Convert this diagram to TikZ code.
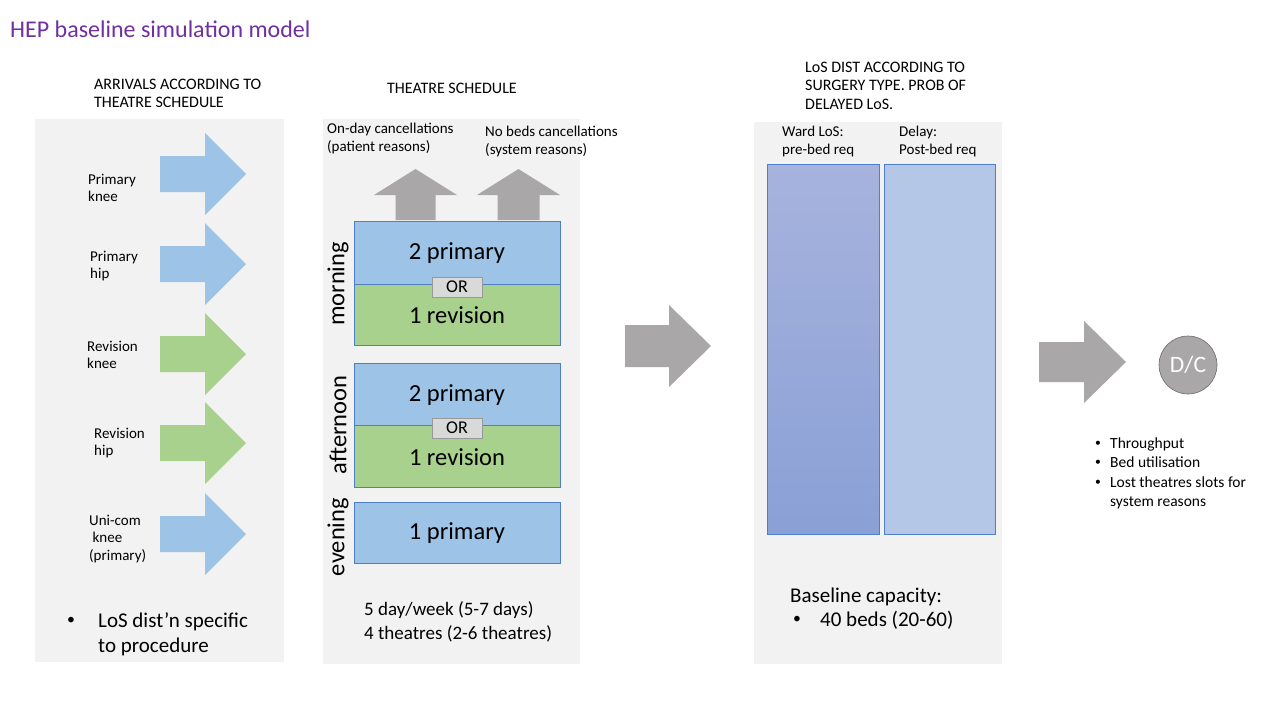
\documentclass[tikz,border=0pt]{standalone}
\usepackage{fontspec}
\usepackage{graphicx}
\setmainfont{Carlito}
\definecolor{panelgray}{HTML}{F2F2F2}
\definecolor{pblue}{HTML}{9DC3E6}
\definecolor{pgreen}{HTML}{A9D18E}
\definecolor{agray}{HTML}{A9A7A7}
\definecolor{bordblue}{HTML}{4F7FC6}
\definecolor{titlepurple}{HTML}{7030A0}
\definecolor{wardtop}{HTML}{A7B3DD}
\definecolor{wardbot}{HTML}{8AA0D6}
\definecolor{delayfill}{HTML}{B4C7E7}
\definecolor{orfill}{HTML}{D9D9D9}
\newcommand{\fs}[2]{\fontsize{#1}{#2}\selectfont}
\newcommand{\smbul}{\raisebox{0.12em}{\scalebox{0.75}{\textbullet}}}
\newcommand{\rarrow}[7]{% x1, xh, x2, yc, shaft half, head half, colour
  \fill[#7] (#1,{#4-#5}) -- (#2,{#4-#5}) -- (#2,{#4-#6}) -- (#3,#4) -- (#2,{#4+#6}) -- (#2,{#4+#5}) -- (#1,{#4+#5}) -- cycle;}
\newcommand{\uarrow}[6]{% xc, ybottom, yheadbase, ytip, shaft half, head half
  \fill[agray] ({#1-#5},#2) -- ({#1-#5},#3) -- ({#1-#6},#3) -- (#1,#4) -- ({#1+#6},#3) -- ({#1+#5},#3) -- ({#1+#5},#2) -- cycle;}
\tikzset{
  panel/.style={fill=panelgray, draw=none},
  lbl/.style={inner sep=0pt, align=left, font=\fs{15}{17.5}},
  hdr/.style={inner sep=0pt, align=left, font=\fs{16}{18.3}},
  boxtxt/.style={inner sep=0pt, font=\fs{24.5}{28}},
  slot/.style={draw=bordblue, line width=0.6pt},
  orbox/.style={fill=orfill, draw=gray!80, line width=0.6pt, minimum width=50pt, minimum height=20pt, inner sep=0pt, font=\fs{18}{21}},
  period/.style={inner sep=0pt, rotate=90, font=\fs{24.5}{28}},
  big/.style={inner sep=0pt, anchor=base west, font=\fs{21}{25}},
  mid/.style={inner sep=0pt, anchor=base west, font=\fs{19}{22}},
  small/.style={inner sep=0pt, anchor=base west, font=\fs{15.5}{18}},
}
\begin{document}
\begin{tikzpicture}[x=1pt,y=-1pt]
\useasboundingbox (0,0) rectangle (1280,720);
\fill[white] (0,0) rectangle (1280,720);

% title
\node[anchor=base west, inner sep=0pt, text=titlepurple, font=\fs{24}{28}] (title) at (10,37) {HEP baseline simulation model};

% ---------- panel 1 ----------
\fill[panel] (35,119) rectangle (284,662);
\node[hdr, anchor=north west] (h1) at (94,79) {ARRIVALS ACCORDING TO\\THEATRE SCHEDULE};

\rarrow{160}{205}{246}{174}{18}{41}{pblue}
\rarrow{160}{205}{246}{264}{18}{41}{pblue}
\rarrow{160}{205}{246}{354}{18}{41}{pgreen}
\rarrow{160}{205}{246}{443}{18}{41}{pgreen}
\rarrow{160}{205}{246}{534}{18}{41}{pblue}

\node[lbl, anchor=west] (a1) at (88,188) {Primary\\knee};
\node[lbl, anchor=west] (a2) at (90,266) {Primary\\hip};
\node[lbl, anchor=west] (a3) at (87,355) {Revision\\knee};
\node[lbl, anchor=west] (a4) at (94,443) {Revision\\hip};
\node[lbl, anchor=west] (a5) at (89,539) {Uni-com\\\ knee\\(primary)};

\node[big] (b1a) at (67,627) {\smbul};
\node[big] (b1) at (98,627) {LoS dist’n specific};
\node[big] (b1c) at (98,652) {to procedure};

% ---------- panel 2 ----------
\fill[panel] (323,119) rectangle (580,664);
\node[hdr, anchor=base] (h2) at (452,93) {THEATRE SCHEDULE};
\node[lbl, anchor=north west] (c1) at (327,123) {On-day cancellations\\(patient reasons)};
\node[lbl, anchor=north west] (c2) at (485,126) {No beds cancellations\\(system reasons)};
\uarrow{415.5}{220}{195}{169}{20}{41.5}
\uarrow{518.5}{220}{195}{169}{21}{41.5}

% morning
\filldraw[slot, fill=pblue] (354,221) rectangle (560,284);
\filldraw[slot, fill=pgreen] (354,284) rectangle (560,345);
\node[boxtxt] (m1) at (457,253) {2 primary};
\node[boxtxt] (m2) at (457,315) {1 revision};
\node[orbox] (mor) at (457,287) {OR};
\node[period] (pm) at (338,284) {morning};

% afternoon
\filldraw[slot, fill=pblue] (354,363) rectangle (560,425);
\filldraw[slot, fill=pgreen] (354,425) rectangle (560,487);
\node[boxtxt] (f1) at (457,395) {2 primary};
\node[boxtxt] (f2) at (457,457) {1 revision};
\node[orbox] (aor) at (457,428) {OR};
\node[period] (pa) at (338,425) {afternoon};

% evening
\filldraw[slot, fill=pblue] (354,502) rectangle (560,563);
\node[boxtxt] (e1) at (457,533) {1 primary};
\node[period] (pe) at (338,537) {evening};

\node[mid] (s1) at (364,615) {5 day/week (5-7 days)};
\node[mid] (s2) at (364,639) {4 theatres (2-6 theatres)};

% middle arrow
\rarrow{625}{669}{711}{346}{21}{41}{agray}

% ---------- panel 3 ----------
\fill[panel] (754,122) rectangle (1002,664);
\node[hdr, anchor=north west] (h3) at (805,62) {LoS DIST ACCORDING TO\\SURGERY TYPE. PROB OF\\DELAYED LoS.};
\node[lbl, anchor=north west] (w1) at (782,126) {Ward LoS:\\pre-bed req};
\node[lbl, anchor=north west] (d1) at (899,126) {Delay:\\Post-bed req};
\shade[top color=wardtop, bottom color=wardbot] (767,164) rectangle (879,534);
\draw[bordblue, line width=0.6pt] (767,164) rectangle (879,534);
\filldraw[slot, fill=delayfill] (884,164) rectangle (995,534);

\node[big] (bc) at (790,602) {Baseline capacity:};
\node[big] (bcb) at (793,626) {\smbul};
\node[big] (bc2) at (820,626) {40 beds (20-60)};

% right arrow
\rarrow{1039}{1084}{1126}{362}{20}{41}{agray}

% D/C
\node[circle, fill=agray, draw=gray!85!black, line width=0.6pt, minimum size=58pt, inner sep=0pt, text=white, font=\fs{23.5}{27}] (dc) at (1188,365) {D/C};

% outputs
\foreach \yy/\tt [count=\i] in {448/Throughput, 467/Bed utilisation, 487/Lost theatres slots for} {
  \node[small] (ob\i) at (1095,\yy) {\smbul};
  \node[small] (ot\i) at (1110,\yy) {\tt};
}
\node[small] (ot4) at (1110,506) {system reasons};
\end{tikzpicture}
\end{document}
